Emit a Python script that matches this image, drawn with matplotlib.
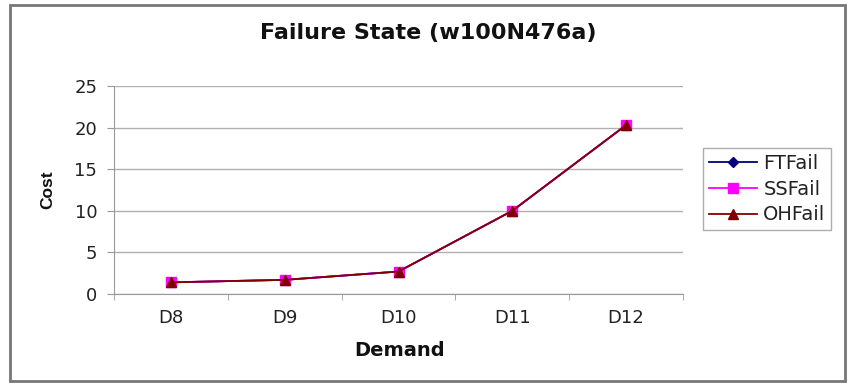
import numpy as np
import matplotlib.pyplot as plt
from matplotlib.patches import Rectangle

plt.rcParams['font.family'] = ['DejaVu Sans']

demands = ['D8', 'D9', 'D10', 'D11', 'D12']
ft_fail = [1.4, 1.7, 2.7, 10.0, 20.3]
ss_fail = [1.4, 1.7, 2.7, 10.0, 20.3]
oh_fail = [1.4, 1.7, 2.7, 10.0, 20.3]
y_ticks = [0, 5, 10, 15, 20, 25]

W, H = 849, 384
fig = plt.figure(figsize=(W / 100, H / 100), dpi=100)
# plot area in pixels: x 114..683, y 86..294
ax = fig.add_axes([114 / W, 1 - 294 / H, 569 / W, 208 / H])

x = np.arange(len(demands))
ax.plot(x, ft_fail, color='#000080', marker='D', markersize=5, lw=1.3, label='FTFail')
ax.plot(x, ss_fail, color='#ff00ff', marker='s', markersize=7, lw=1.3, label='SSFail')
ax.plot(x, oh_fail, color='#800000', marker='^', markersize=7, lw=1.3, label='OHFail')

ax.set_xlim(-0.5, len(demands) - 0.5)
ax.set_ylim(0, 25)
ax.set_yticks(y_ticks)
ax.set_xticks(x)
ax.set_xticklabels(demands)
ax.set_xticks(np.arange(len(demands) + 1) - 0.5, minor=True)
ax.tick_params(axis='x', which='major', length=0, pad=11, labelsize=13, labelcolor='#222222')
ax.tick_params(axis='x', which='minor', length=4, color='#999999')
ax.tick_params(axis='y', length=5, color='#999999', labelsize=13, pad=7, labelcolor='#222222')
ax.grid(axis='y', color='#b0b0b0', lw=1)
ax.set_axisbelow(True)
for s in ['top', 'right']:
    ax.spines[s].set_visible(False)
for s in ['left', 'bottom']:
    ax.spines[s].set_color('#999999')

fig.text(428 / W, 1 - 33 / H, 'Failure State (w100N476a)', fontsize=16, fontweight='bold',
         ha='center', va='center', color='#111111')
fig.text(400 / W, 1 - 350 / H, 'Demand', fontsize=14, fontweight='bold',
         ha='center', va='center', color='#111111')
fig.text(48 / W, 1 - 190 / H, 'Cost', fontsize=12.5, fontweight='bold', family='Liberation Sans',
         rotation=90, ha='center', va='center', color='#111111')

leg = ax.legend(loc='upper left', bbox_to_anchor=(703 / W, 1 - 148 / H),
                bbox_transform=fig.transFigure, borderaxespad=0, frameon=True,
                fancybox=False, edgecolor='#999999', fontsize=14,
                handlelength=2.5, handletextpad=0.3, borderpad=0.3, labelspacing=0.35)
leg.get_frame().set_linewidth(1)
for t in leg.get_texts():
    t.set_color('#222222')

fig.patches.append(Rectangle((10 / W, 3 / H), 835 / W, 376 / H, transform=fig.transFigure,
                             fill=False, edgecolor='#777777', lw=2))

fig.savefig('out.png', dpi=100)
